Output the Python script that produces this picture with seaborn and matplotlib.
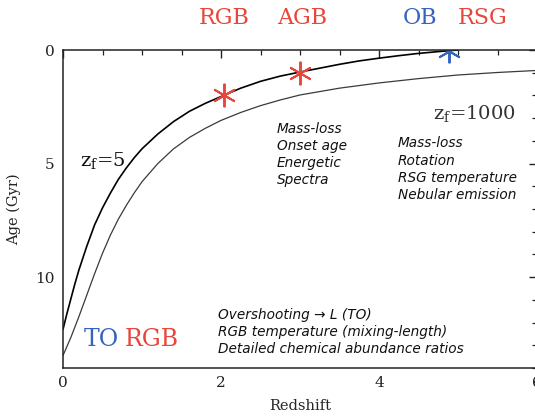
import matplotlib
matplotlib.use("Agg")
import matplotlib.pyplot as plt
import seaborn as sns
import pandas as pd

# ---- data ----
z_f5 = [0.0, 0.05, 0.1, 0.15, 0.2, 0.3, 0.4, 0.5, 0.6, 0.7, 0.8, 0.9, 1.0, 1.2, 1.4,
        1.6, 1.8, 2.0, 2.25, 2.5, 2.75, 3.0, 3.25, 3.5, 3.75, 4.0, 4.25, 4.5, 4.75, 5.0]
age_f5 = [12.3, 11.6, 10.95, 10.3, 9.7, 8.65, 7.7, 6.95, 6.3, 5.7, 5.2, 4.75, 4.35, 3.7, 3.15,
          2.7, 2.35, 2.05, 1.68, 1.38, 1.15, 0.97, 0.8, 0.63, 0.48, 0.36, 0.25, 0.15, 0.07, 0.0]

z_f1000 = [0.0, 0.05, 0.1, 0.15, 0.2, 0.3, 0.4, 0.5, 0.6, 0.7, 0.8, 0.9, 1.0, 1.2, 1.4,
           1.6, 1.8, 2.0, 2.25, 2.5, 2.75, 3.0, 3.5, 4.0, 4.5, 5.0, 5.5, 6.0]
age_f1000 = [13.45, 13.05, 12.65, 12.2, 11.75, 10.8, 9.85, 8.95, 8.15, 7.45, 6.85, 6.3, 5.8, 5.0, 4.35,
             3.85, 3.45, 3.1, 2.75, 2.45, 2.2, 1.98, 1.68, 1.45, 1.26, 1.1, 0.99, 0.9]

red_star_z = [2.04, 3.0]
red_star_age = [2.0, 1.0]
blue_star_z = [4.88]
blue_star_age = [0.05]

top_labels = ["RGB", "AGB", "OB", "RSG"]
top_label_colors = ["red", "red", "blue", "red"]
top_label_x_px = [224, 302, 420, 483]

RED = "#e8453b"
BLUE = "#3563c0"

sns.set_style("white")
plt.rcParams["font.family"] = ["DejaVu Serif"]
plt.rcParams["mathtext.fontset"] = "dejavuserif"

W, H = 535, 416
fig = plt.figure(figsize=(W / 100, H / 100), dpi=100)
ax = fig.add_axes([63 / W, 1 - 368 / H, (537 - 63) / W, (368 - 50) / H])

df5 = pd.DataFrame({"z": z_f5, "age": age_f5})
df1000 = pd.DataFrame({"z": z_f1000, "age": age_f1000})
sns.lineplot(data=df5, x="z", y="age", ax=ax, color="black", lw=1.2, sort=False, estimator=None)
sns.lineplot(data=df1000, x="z", y="age", ax=ax, color="#3a3a3a", lw=0.9, sort=False, estimator=None)

ax.plot(red_star_z, red_star_age, linestyle="none", marker=(6, 2, 0), ms=17, mew=1.4, color=RED)
ax.plot(blue_star_z, blue_star_age, linestyle="none", marker=(6, 2, 0), ms=17, mew=1.4, color=BLUE)

ax.set_xlim(0, 6)
ax.set_ylim(14, 0)
ax.set_xticks([0, 2, 4, 6])
ax.set_xticks([i * 0.5 for i in range(13)], minor=True)
ax.set_yticks([0, 5, 10])
ax.set_yticks(list(range(15)), minor=True)
ax.tick_params(which="both", direction="in", top=True, right=True, labelsize=11, colors="#222222")
ax.tick_params(which="major", length=6, width=1.0, pad=6)
ax.tick_params(which="minor", length=3.5, width=0.9)
for s in ax.spines.values():
    s.set_linewidth(1.1)
    s.set_color("#222222")
ax.set_xlabel("Redshift", fontsize=10.5, labelpad=6)
ax.set_ylabel("Age (Gyr)", fontsize=10.5, labelpad=10)

# top labels
for lab, c, xp in zip(top_labels, top_label_colors, top_label_x_px):
    fig.text(xp / W, 1 - 18 / H, lab, color=RED if c == "red" else BLUE,
             fontsize=16, ha="center", va="center")

# curve labels
ax.text(0.215, 4.85, r"z$_{\rm f}$=5", fontsize=14, ha="left", va="center", color="#111111")
ax.text(4.68, 2.8, r"z$_{\rm f}$=1000", fontsize=14, ha="left", va="center", color="#333333")

# TO RGB
ax.text(0.49, 12.73, "TO", color=BLUE, fontsize=17, ha="center", va="center")
ax.text(1.13, 12.73, "RGB", color=RED, fontsize=17, ha="center", va="center")

ital = dict(family="DejaVu Sans", style="italic", fontsize=9.8, color="#111111", linespacing=1.3,
            ha="left", va="top")
ax.text(2.71, 3.15, "Mass-loss\nOnset age\nEnergetic\nSpectra", **ital)
ax.text(4.24, 3.8, "Mass-loss\nRotation\nRSG temperature\nNebular emission", **ital)
ax.text(1.96, 11.35, "Overshooting \u2192 L (TO)\nRGB temperature (mixing-length)\nDetailed chemical abundance ratios", **ital)

fig.savefig("out.png", dpi=100)
